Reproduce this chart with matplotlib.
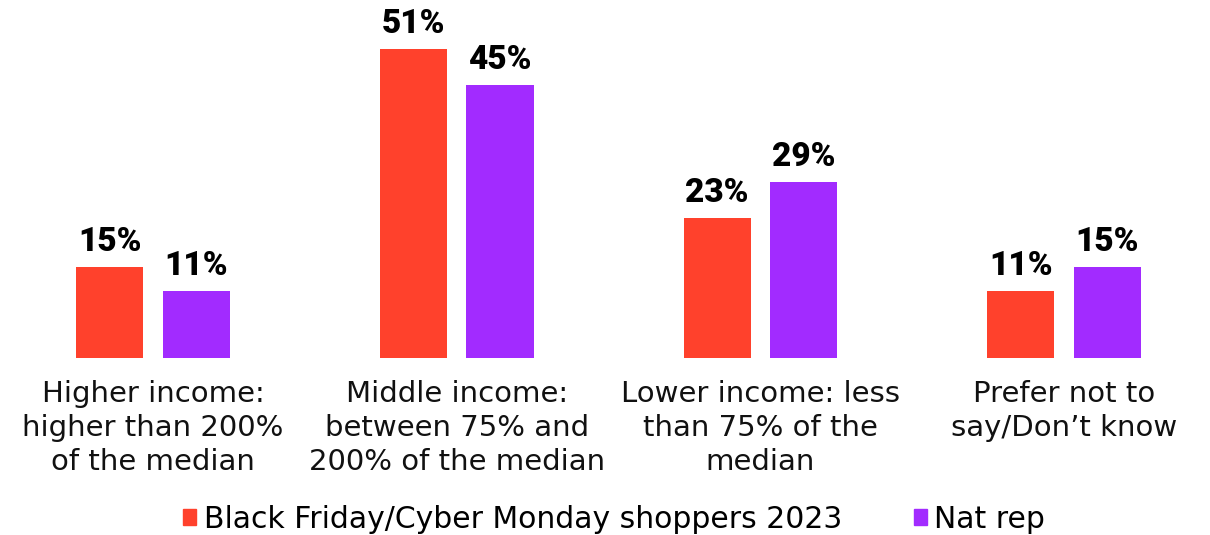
import matplotlib
matplotlib.use("Agg")
import matplotlib.pyplot as plt
import matplotlib.patches as mpatches
import numpy as np

categories = [
    "Higher income:\nhigher than 200%\nof the median",
    "Middle income:\nbetween 75% and\n200% of the median",
    "Lower income: less\nthan 75% of the\nmedian",
    "Prefer not to\nsay/Don\u2019t know",
]
series_names = ["Black Friday/Cyber Monday shoppers 2023", "Nat rep"]
bf_shoppers = [15, 51, 23, 11]
nat_rep = [11, 45, 29, 15]

colors = ["#FF412C", "#A22BFF"]

W, H = 1210, 535
fig = plt.figure(figsize=(W / 100, H / 100), dpi=100)
base_px = 357.5
ax = fig.add_axes([0, (H - base_px) / H, 1, base_px / H])

x = np.arange(len(categories))
bw = 0.221
off = 0.1425
for vals, dx, c in [(bf_shoppers, -off, colors[0]), (nat_rep, off, colors[1])]:
    bars = ax.bar(x + dx, vals, width=bw, color=c, edgecolor="none")
    for b, v in zip(bars, vals):
        ax.annotate(f"{v}%", (b.get_x() + b.get_width() / 2, v),
                    xytext=(0, 11.5), textcoords="offset points",
                    ha="center", va="baseline", fontsize=24,
                    fontweight="black", family="Roboto", color="#000000")

ax.set_xlim(-0.5038, -0.5038 + W / 303.7)
ax.set_ylim(0, base_px / 6.05)
ax.set_xticks(x)
ax.set_xticklabels(categories, fontsize=21, family="DejaVu Sans",
                   linespacing=1.27, color="#111111")
ax.tick_params(axis="x", length=0, pad=16)
ax.set_yticks([])
for s in ax.spines.values():
    s.set_visible(False)

handles = [mpatches.Patch(color=c, label=n) for c, n in zip(colors, series_names)]
fig.legend(handles=handles, loc="center", bbox_to_anchor=(614 / W, (H - 519) / H),
           ncol=2, frameon=False, fontsize=21.5, handlelength=0.45,
           handleheight=0.45, handletextpad=0.25, columnspacing=2.4,
           borderpad=0, borderaxespad=0)

fig.savefig("out.png", dpi=100)
